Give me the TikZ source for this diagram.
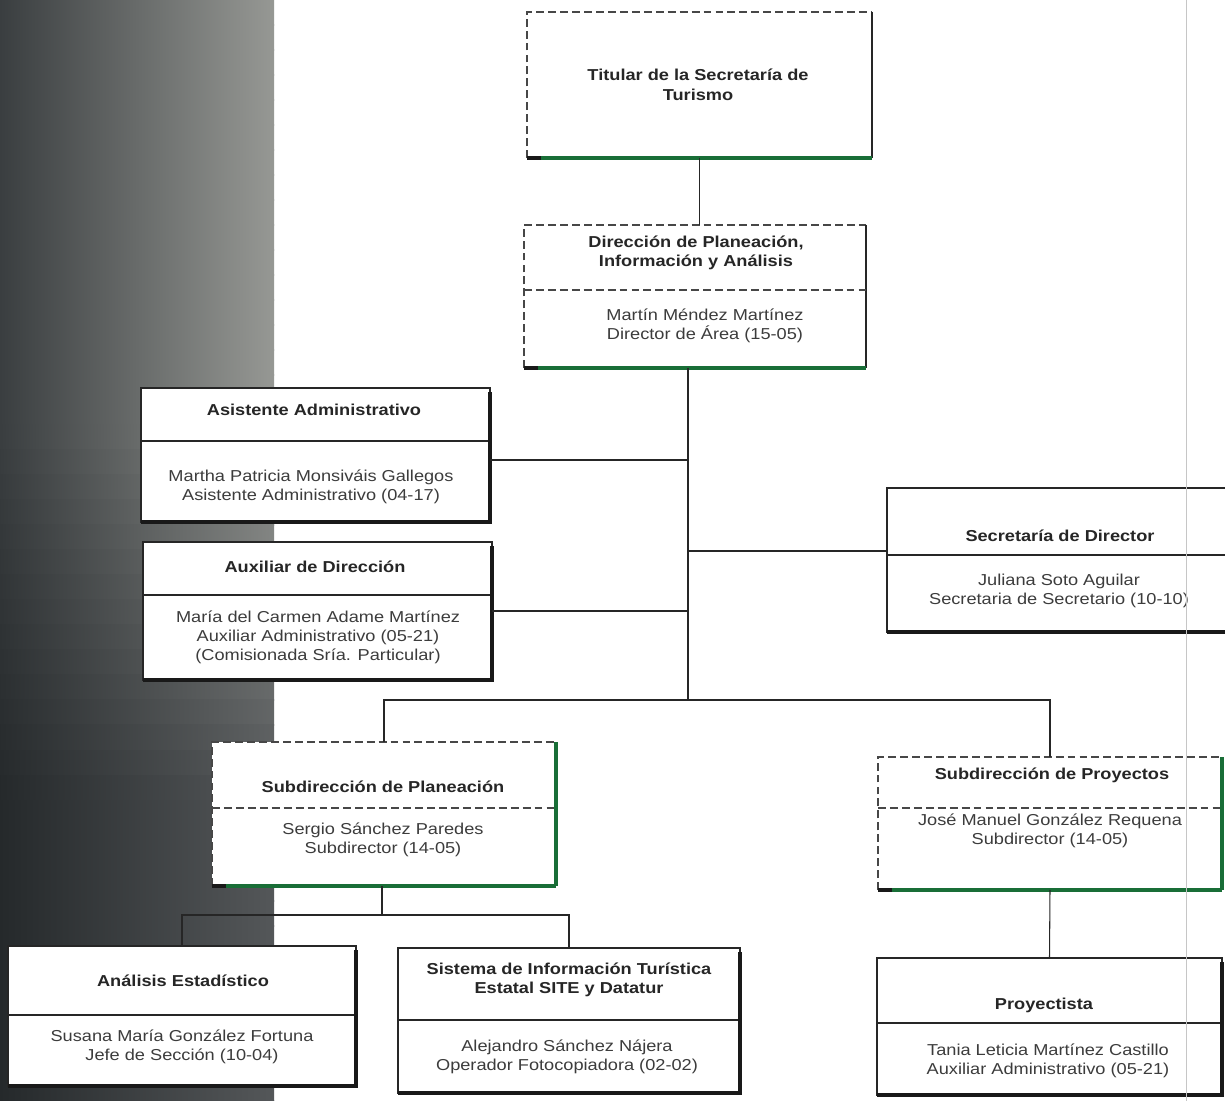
\documentclass[tikz,border=0pt]{standalone}
\usepackage{fontspec}
\setmainfont{Liberation Sans}[FakeStretch=1.15]
\usetikzlibrary{calc}
\definecolor{ink}{HTML}{262626}
\definecolor{grn}{RGB}{25,110,55}
\definecolor{ltL}{HTML}{3A3E40}
\definecolor{ltM}{HTML}{5C5F60}
\definecolor{ltR}{HTML}{969894}
\definecolor{dkL}{HTML}{25292B}
\definecolor{dkM}{HTML}{333637}
\definecolor{dkR}{HTML}{545759}
\tikzset{
  boxbase/.style={rectangle, fill=white, inner sep=0pt, outer sep=0pt},
  frame/.style={draw=ink, line width=0.6pt},
  shadowblk/.style={draw=black!90, line width=2.6pt},
  dashedge/.style={draw=ink!85, line width=0.6pt, dash pattern=on 4.5pt off 2.3pt},
  thinedge/.style={draw=ink, line width=0.7pt},
  grnedge/.style={draw=grn, line width=2.8pt},
  grnside/.style={draw=grn, line width=1.8pt},
  conn/.style={draw=ink, line width=0.6pt},
  ttl/.style={font=\bfseries\fontsize{9}{11.2}\selectfont, text=ink, align=center, inner sep=0pt},
  bod/.style={font=\fontsize{9}{10.8}\selectfont, text=ink!90, align=center, inner sep=0pt},
}
\newcommand{\obox}[5]{\node[boxbase, minimum width={(#4-#2)*0.02cm}, minimum height={(#5-#3)*0.02cm}] (#1) at ({(#2+#4)/2},{(#3+#5)/2}) {};}
\newcommand{\solidframe}[2]{%
  \draw[frame] (#1.south west) rectangle (#1.north east);
  \draw[frame] ($(#1.north west)+(0,#2)$) -- ($(#1.north east)+(0,#2)$);
  \draw[shadowblk] (#1.south west) -- (#1.south east) -- ($(#1.north east)+(0,4)$);}
\newcommand{\dashframe}[3]{%
  \draw[dashedge] (#1.south west) -- (#1.north west) -- (#1.north east);
  \draw[#3] (#1.north east) -- (#1.south east);
  \draw[grnedge] (#1.south west) -- (#1.south east);
  \draw[shadowblk] (#1.south west) -- ++(14,0);
  \ifx&#2&\else
  \draw[dashedge] ($(#1.north west)+(0,#2)$) -- ($(#1.north east)+(0,#2)$);
  \fi}
\begin{document}
\begin{tikzpicture}[x=0.02cm, y=-0.02cm]
\useasboundingbox (0,0) rectangle (1225,1101);
\clip (0,0) rectangle (1225,1101);
\fill[white] (0,0) rectangle (1225,1101);
% scan shadow on the left: horizontal shading, darker towards the bottom
\foreach \i in {0,...,44} {
  \pgfmathtruncatemacro\t{max(0,min(100,(\i*25-420)/3.6))}
  \shade[left color=dkL!\t!ltL, middle color=dkM!\t!ltM, right color=dkR!\t!ltR]
    (0,\i*25) rectangle (274,\i*25+26);
}

% boxes
\obox{tit}{527}{12}{872}{158}
\obox{dir}{524}{225}{866}{368}
\obox{asis}{141}{388}{490}{522}
\obox{aux}{143}{542}{492}{680}
\obox{sec}{887}{488}{1240}{632}
\obox{subplan}{212}{742}{556}{886}
\obox{subproy}{878}{757}{1222}{890}
\obox{anal}{8}{946}{356}{1086}
\obox{sist}{398}{948}{740}{1093}
\obox{proy}{877}{958}{1222}{1095}

\dashframe{tit}{}{thinedge}
\dashframe{dir}{65}{thinedge}
\dashframe{subplan}{66}{grnside}
\dashframe{subproy}{51}{grnside}
\solidframe{asis}{53}
\solidframe{aux}{53}
\solidframe{sec}{67}
\solidframe{anal}{69}
\solidframe{sist}{72}
\solidframe{proy}{65}

% connectors
\coordinate (spine) at (688,700);
\coordinate (bus2) at (382,915);
\coordinate (asisE) at ($(asis.east)+(0,5)$);
\coordinate (secW) at ($(sec.west)+(0,-9)$);
\draw[conn] (tit.south) -- (tit.south |- dir.north);
\draw[conn] (dir.south -| spine) -- (spine);
\draw[conn] (asisE) -- (asisE -| spine);
\draw[conn] (aux.east) -- (aux.east -| spine);
\draw[conn] (secW) -- (secW -| spine);
\draw[conn] (subplan.north) |- (spine) -| (subproy.north);
\draw[conn] (subplan.south -| bus2) -- (bus2);
\draw[conn] (anal.north) |- (bus2) -| (sist.north);
\draw[conn] (subproy.south) -- (proy.north);

% texts
\node[ttl] (titT) at (698,85) {Titular de la Secretaría de\\Turismo};
\node[ttl] (dirT) at (696,253) {Dirección de Planeación,\\Información y Análisis};
\node[bod] (dirB) at (705,326) {Martín Méndez Martínez\\Director de Área (15-05)};
\node[ttl] (asisT) at (314,410) {Asistente Administrativo};
\node[bod] (asisB) at (311,487) {Martha Patricia Monsiváis Gallegos\\Asistente Administrativo (04-17)};
\node[ttl] (auxT) at (315,567) {Auxiliar de Dirección};
\node[bod] (auxB) at (318,637) {María del Carmen Adame Martínez\\Auxiliar Administrativo (05-21)\\(Comisionada Sría. Particular)};
\node[ttl] (secT) at (1060,536) {Secretaría de Director};
\node[bod] (secB) at (1059,591) {Juliana Soto Aguilar\\Secretaria de Secretario (10-10)};
\node[ttl] (subplanT) at (383,787) {Subdirección de Planeación};
\node[bod] (subplanB) at (383,840) {Sergio Sánchez Paredes\\Subdirector (14-05)};
\node[ttl] (subproyT) at (1052,775) {Subdirección de Proyectos};
\node[bod] (subproyB) at (1050,831) {José Manuel González Requena\\Subdirector (14-05)};
\node[ttl] (analT) at (183,981) {Análisis Estadístico};
\node[bod] (analB) at (182,1047) {Susana María González Fortuna\\Jefe de Sección (10-04)};
\node[ttl] (sistT) at (569,980) {Sistema de Información Turística\\Estatal SITE y Datatur};
\node[bod] (sistB) at (567,1057) {Alejandro Sánchez Nájera\\Operador Fotocopiadora (02-02)};
\node[ttl] (proyT) at (1044,1005) {Proyectista};
\node[bod] (proyB) at (1048,1061) {Tania Leticia Martínez Castillo\\Auxiliar Administrativo (05-21)};

% page fold line of the scan
\draw[gray!45, line width=0.4pt] (1186,0) -- (1186,1101);
\end{tikzpicture}
\end{document}
